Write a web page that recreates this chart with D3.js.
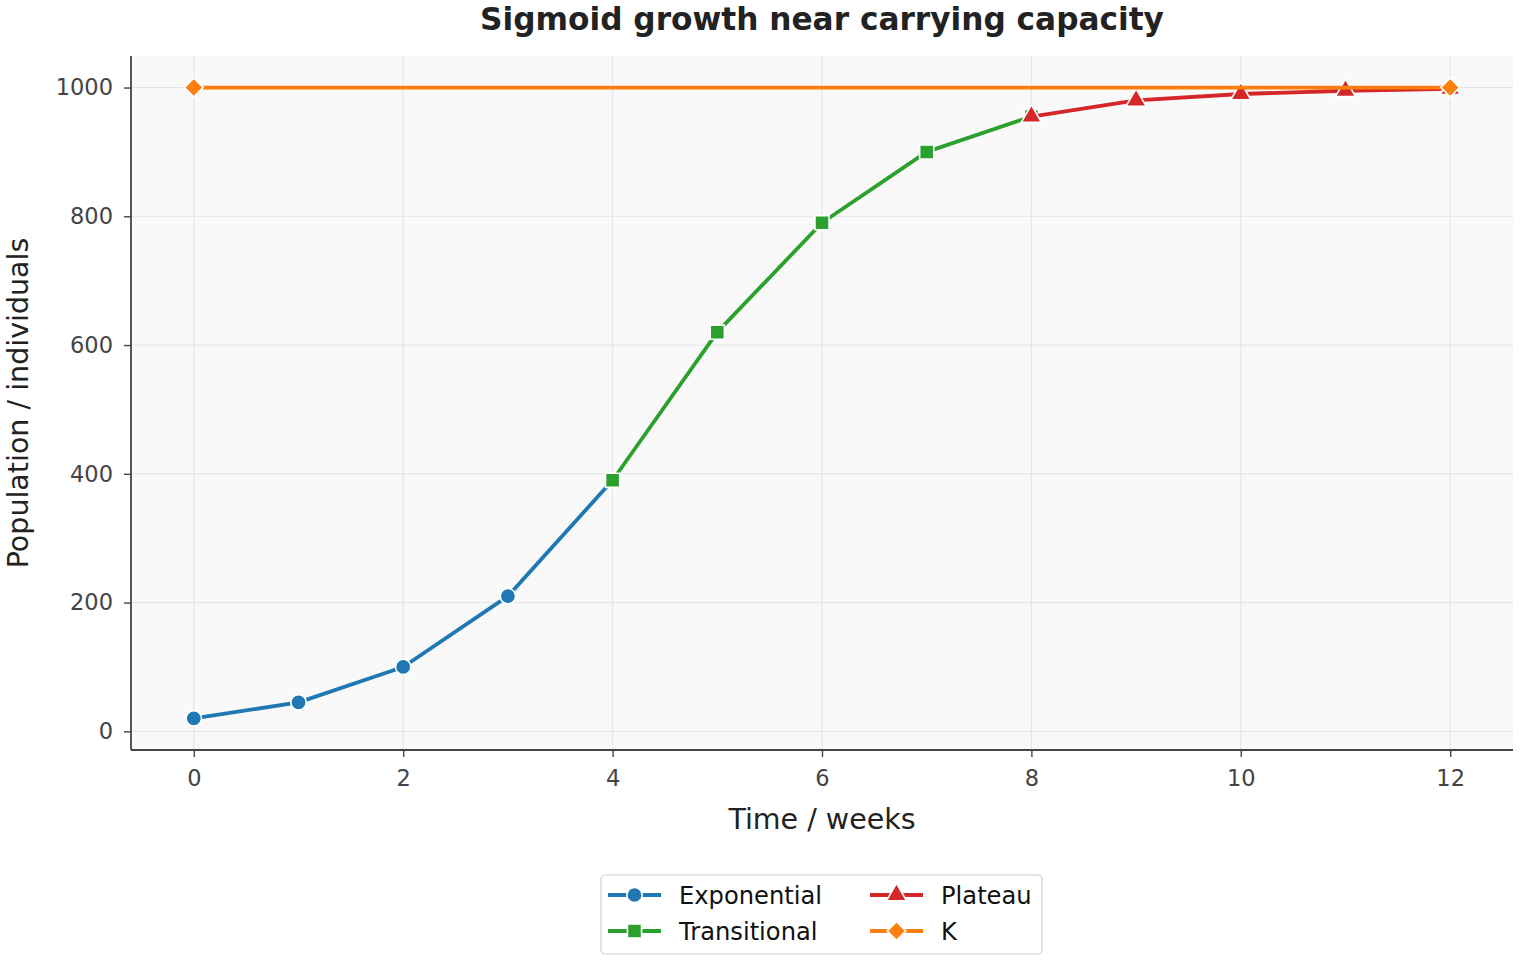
<!DOCTYPE html>
<html>
<head>
<meta charset="utf-8">
<script src="https://cdn.jsdelivr.net/npm/d3@7"></script>
<style>
  body { margin: 0; background: #fff; }
  svg { font-family: "DejaVu Sans", sans-serif; }
</style>
</head>
<body>
<div id="chart"></div>
<script>
// data
var expT = [0, 1, 2, 3, 4];
var expY = [20, 45, 100, 210, 390];
var transT = [4, 5, 6, 7, 8];
var transY = [390, 620, 790, 900, 955];
var plateauT = [8, 9, 10, 11, 12];
var plateauY = [955, 980, 990, 995, 998];
var kT = [0, 12];
var kY = [1000, 1000];
var xTicks = [0, 2, 4, 6, 8, 10, 12];
var yTicks = [0, 200, 400, 600, 800, 1000];

var W = 1520, H = 960;
var margin = { left: 131, right: 7, top: 56, bottom: 210 };

var svg = d3.select("#chart").append("svg").attr("width", W).attr("height", H);

var x = d3.scaleLinear().domain([-0.6, 12.6]).range([margin.left, W - margin.right]);
var y = d3.scaleLinear().domain([-29, 1049]).range([H - margin.bottom, margin.top]);

// plot background
svg.append("rect")
  .attr("x", x.range()[0]).attr("y", y.range()[1])
  .attr("width", x.range()[1] - x.range()[0])
  .attr("height", y.range()[0] - y.range()[1])
  .attr("fill", "#f9f9f9");

// grid
var grid = svg.append("g");
grid.selectAll("line.gx").data(xTicks).enter().append("line")
  .attr("x1", function (d) { return x(d); }).attr("x2", function (d) { return x(d); })
  .attr("y1", y.range()[1]).attr("y2", y.range()[0])
  .style("stroke", "#e3e3ea").style("stroke-width", 1);
grid.selectAll("line.gy").data(yTicks).enter().append("line")
  .attr("y1", function (d) { return y(d); }).attr("y2", function (d) { return y(d); })
  .attr("x1", x.range()[0]).attr("x2", x.range()[1])
  .style("stroke", "#e3e3ea").style("stroke-width", 1);

// axes
var xAxis = svg.append("g")
  .attr("transform", "translate(0," + y.range()[0] + ")")
  .call(d3.axisBottom(x).tickValues(xTicks).tickFormat(d3.format("d")).tickSize(7).tickPadding(13).tickSizeOuter(0));
var yAxis = svg.append("g")
  .attr("transform", "translate(" + x.range()[0] + ",0)")
  .call(d3.axisLeft(y).tickValues(yTicks).tickFormat(d3.format("d")).tickSize(7).tickPadding(11).tickSizeOuter(0));
[xAxis, yAxis].forEach(function (a) {
  a.select(".domain").style("stroke", "#444").style("stroke-width", 1.8);
  a.selectAll(".tick line").style("stroke", "#444").style("stroke-width", 1.4);
  a.selectAll(".tick text").style("fill", "#444").style("font-size", "22.5px")
    .style("font-family", "DejaVu Sans");
});
xAxis.select(".domain").attr("d", "M" + x.range()[0] + ",0H" + x.range()[1]);
yAxis.select(".domain").attr("d", "M0," + y.range()[0] + "V" + y.range()[1]);

// labels
svg.append("text").attr("x", (x.range()[0] + x.range()[1]) / 2).attr("y", 30)
  .attr("text-anchor", "middle").style("font-size", "31.2px").style("font-weight", "bold")
  .style("fill", "#222").text("Sigmoid growth near carrying capacity");
svg.append("text").attr("x", (x.range()[0] + x.range()[1]) / 2).attr("y", 829)
  .attr("text-anchor", "middle").style("font-size", "28.5px").style("fill", "#222")
  .text("Time / weeks");
svg.append("text")
  .attr("transform", "translate(28," + (y.range()[0] + y.range()[1]) / 2 + ") rotate(-90)")
  .attr("text-anchor", "middle").style("font-size", "28.5px").style("fill", "#222")
  .text("Population / individuals");

// symbols
function marker(g, shape, color) {
  var p, rot = null;
  if (shape === "circle") p = d3.symbol().type(d3.symbolCircle).size(185);
  else if (shape === "square") p = d3.symbol().type(d3.symbolSquare).size(200);
  else if (shape === "triangle") p = d3.symbol().type(d3.symbolTriangle).size(175);
  else { p = d3.symbol().type(d3.symbolSquare).size(175); rot = "rotate(45)"; }
  return g.append("path").attr("d", p()).attr("transform", rot)
    .style("fill", color).style("stroke", "#fff").style("stroke-width", 1.6);
}

var series = [
  { name: "Exponential", t: expT, v: expY, color: "#1f77b4", shape: "circle" },
  { name: "Transitional", t: transT, v: transY, color: "#2ca02c", shape: "square" },
  { name: "Plateau", t: plateauT, v: plateauY, color: "#d62728", shape: "triangle" },
  { name: "K", t: kT, v: kY, color: "#ff7f0e", shape: "diamond" }
];

var line = d3.line().x(function (d) { return x(d[0]); }).y(function (d) { return y(d[1]); });

series.forEach(function (s) {
  var pts = s.t.map(function (t, i) { return [t, s.v[i]]; });
  var g = svg.append("g");
  g.append("path").attr("d", line(pts))
    .style("fill", "none").style("stroke", s.color).style("stroke-width", 3.8)
    .style("stroke-linejoin", "round");
  pts.forEach(function (p) {
    var mg = g.append("g").attr("transform", "translate(" + x(p[0]) + "," + y(p[1]) + ")");
    marker(mg, s.shape, s.color);
  });
});

// legend
var lg = svg.append("g").attr("transform", "translate(601,875)");
lg.append("rect").attr("width", 441).attr("height", 79).attr("rx", 4)
  .style("fill", "#fff").style("stroke", "#d0d0d0").style("stroke-width", 1.2);
var cols = [[series[0], series[1]], [series[2], series[3]]];
var colX = [7, 269];
cols.forEach(function (col, ci) {
  col.forEach(function (s, ri) {
    var cy = 20 + ri * 36;
    var g = lg.append("g").attr("transform", "translate(" + colX[ci] + "," + cy + ")");
    g.append("line").attr("x1", 0).attr("x2", 53).attr("y1", 0).attr("y2", 0)
      .style("stroke", s.color).style("stroke-width", 3.8);
    var mg = g.append("g").attr("transform", "translate(26.5,0)");
    marker(mg, s.shape, s.color);
    g.append("text").attr("x", 71).attr("y", 0).attr("dy", "0.36em")
      .style("font-size", "24.2px").style("fill", "#111").text(s.name);
  });
});
</script>
</body>
</html>
